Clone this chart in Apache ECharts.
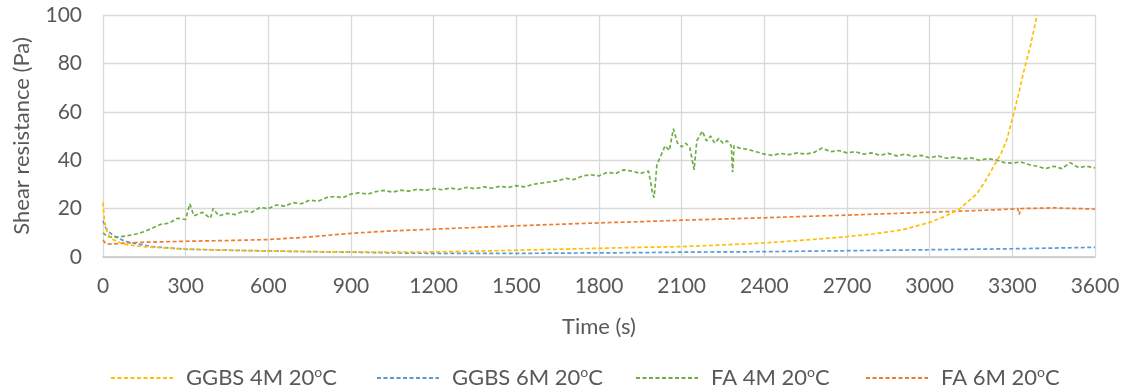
<!DOCTYPE html>
<html><head><meta charset="utf-8">
<script src="https://cdn.jsdelivr.net/npm/echarts@6/dist/echarts.min.js"></script>
<style>html,body{margin:0;padding:0;background:#fff}#c{width:1130px;height:392px}</style>
</head><body><div id="c"></div>
<script>
const seriesNames = ['GGBS 4M 20oC', 'GGBS 6M 20oC', 'FA 4M 20oC', 'FA 6M 20oC'];
const xTicks = [0,300,600,900,1200,1500,1800,2100,2400,2700,3000,3300,3600];
const yTicks = [0,20,40,60,80,100];

const ggbs4Time = [0,5,15,30,60,90,150,300,450,600,750,900,1050,1200,1350,1500,1650,1800,1950,2100,2250,2400,2550,2700,2800,2900,3000,3060,3110,3140,3170,3200,3230,3260,3280,3300,3320,3340,3365,3390];
const ggbs4Val  = [22.5,15,10,7.5,6,5,4.2,3.3,2.8,2.5,2.2,2.1,2.0,2.1,2.4,2.8,3.2,3.6,4.0,4.3,5.0,5.8,7.0,8.4,9.6,11.2,14.3,17,20,23,26,31,37,43,48.5,57,66,76,87,100];

const ggbs6Time = [0,10,25,50,80,120,180,300,450,600,750,900,1050,1200,1350,1500,1650,1800,1950,2100,2250,2400,2550,2700,2850,3000,3150,3300,3450,3600];
const ggbs6Val  = [15,12,10,8,6.5,5.5,4.3,3.2,2.8,2.5,2.2,2.0,1.7,1.5,1.5,1.5,1.6,1.7,1.8,2.0,2.1,2.2,2.4,2.6,2.8,3.0,3.2,3.4,3.7,4.0];

const fa4Time = [0,15,30,60,90,120,150,180,210,240,270,300,315,330,360,390,400,420,450,480,510,540,570,600,630,660,690,720,750,780,810,840,870,900,930,960,990,1020,1050,1080,1110,1140,1170,1200,1230,1260,1290,1320,1350,1380,1410,1440,1470,1500,1530,1560,1590,1620,1650,1680,1710,1740,1770,1800,1830,1860,1890,1920,1950,1980,1995,2000,2010,2025,2040,2055,2070,2085,2100,2115,2130,2145,2155,2175,2190,2205,2220,2235,2250,2265,2280,2285,2290,2310,2340,2370,2400,2430,2460,2490,2520,2550,2580,2610,2640,2670,2700,2730,2760,2790,2820,2850,2880,2910,2940,2970,3000,3030,3060,3090,3120,3150,3180,3210,3240,3270,3300,3330,3360,3390,3420,3450,3480,3510,3540,3570,3600];
const fa4Val  = [10,8.5,8.2,8.3,8.8,9.5,10.5,12,13.5,14,16,15.5,22,17,18.5,16,20,17,18,17.5,19,18.5,20.5,20,21.5,21,22.5,22,23.5,23,24.5,25,24.5,26,26.5,26,27,27.5,26.8,27.6,27.2,28,27.5,28.3,27.8,28.5,27.9,28.8,28.2,29,28.4,29.2,28.7,29.5,29,30,30.5,31,31.5,32.5,32,33.5,34,33.5,35,34.5,36,35.5,34.5,35.5,26,24.5,38,42,46,44,53,47,45.5,47,45,36,48,52,48,50,47,49,47,48,46,35,46,45,44.5,43.5,42.5,42,42.8,42.3,43,42.5,43.2,45,43.5,44,43,43.5,42.5,43,42,42.8,41.8,42.5,41.5,42,41,41.8,40.8,41.3,40.5,41,40,40.6,40.2,39,38.8,39.3,38.2,37.5,36.5,37.5,36.5,39,37,37.5,36.8];

const fa6Time = [0,10,30,60,120,300,450,600,750,900,1050,1200,1350,1500,1650,1800,1950,2100,2250,2400,2550,2700,2850,3000,3150,3300,3320,3325,3330,3450,3600];
const fa6Val  = [7,5.5,5.3,5.6,6,6.5,6.8,7.2,8.3,9.8,10.8,11.5,12.2,12.9,13.5,14.1,14.6,15.2,15.7,16.2,16.8,17.3,17.9,18.5,19.1,19.8,20,17.5,20,20.3,19.8];

const colors = ['#FFC000','#5B9BD5','#70AD47','#ED7D31'];
const zip = (t, v) => t.map((x, i) => [x, v[i]]);
const dataSets = [zip(ggbs4Time, ggbs4Val), zip(ggbs6Time, ggbs6Val), zip(fa4Time, fa4Val), zip(fa6Time, fa6Val)];

const FONT = 'Lato';
const TXT = '#595959';
const legendLefts = [110, 376, 635, 865];
const chart = echarts.init(document.getElementById('c'), null, {renderer: 'canvas'});
chart.setOption({
  animation: false,
  backgroundColor: '#fff',
  grid: {left: 103, right: 35, top: 15, bottom: 135},
  legend: seriesNames.map((n, i) => ({
    data: [n], left: legendLefts[i], top: 365, padding: 0, itemWidth: 62, itemHeight: 14, itemGap: 0,
    itemStyle: {opacity: 0},
    formatter: name => {
      const k = name.lastIndexOf('oC');
      return '{a|' + name.slice(0, k) + '}{s|o}{a|C}';
    },
    textStyle: {
      fontFamily: FONT, fontSize: 22, color: TXT, padding: [0,0,0,8],
      rich: {
        a: {fontFamily: FONT, fontSize: 22, color: TXT, lineHeight: 26, verticalAlign: 'middle'},
        s: {fontFamily: FONT, fontSize: 14, color: TXT, lineHeight: 26, verticalAlign: 'top', padding: [0,0,10,0]}
      }
    }
  })),
  xAxis: {
    type: 'value', min: 0, max: 3600, interval: 300,
    name: 'Time (s)', nameLocation: 'middle', nameGap: 59,
    nameTextStyle: {fontFamily: FONT, fontSize: 22, color: TXT},
    axisLine: {show: true, lineStyle: {color: '#C8C8C8', width: 1.5}},
    axisTick: {show: false},
    axisLabel: {fontFamily: FONT, fontSize: 21, color: TXT, margin: 19,
      formatter: v => xTicks.includes(v) ? String(v) : ''},
    splitLine: {show: true, lineStyle: {color: '#D9D9D9', width: 1.3}}
  },
  yAxis: {
    type: 'value', min: 0, max: 100, interval: 20,
    name: 'Shear resistance (Pa)', nameLocation: 'middle', nameGap: 70, nameRotate: 90,
    nameTextStyle: {fontFamily: FONT, fontSize: 22, color: TXT},
    axisLine: {show: false},
    axisTick: {show: false},
    axisLabel: {fontFamily: FONT, fontSize: 21, color: TXT, margin: 21,
      formatter: v => yTicks.includes(v) ? String(v) : ''},
    splitLine: {show: true, lineStyle: {color: '#D9D9D9', width: 1.3}}
  },
  series: seriesNames.map((n, i) => ({
    name: n, type: 'line', data: dataSets[i], symbol: 'none', showSymbol: false,
    clip: true, z: i === 0 ? 5 : 3,
    lineStyle: {color: colors[i], width: 1.7, type: [4, 2.5]},
    itemStyle: {color: colors[i]}
  }))
});
</script></body></html>
